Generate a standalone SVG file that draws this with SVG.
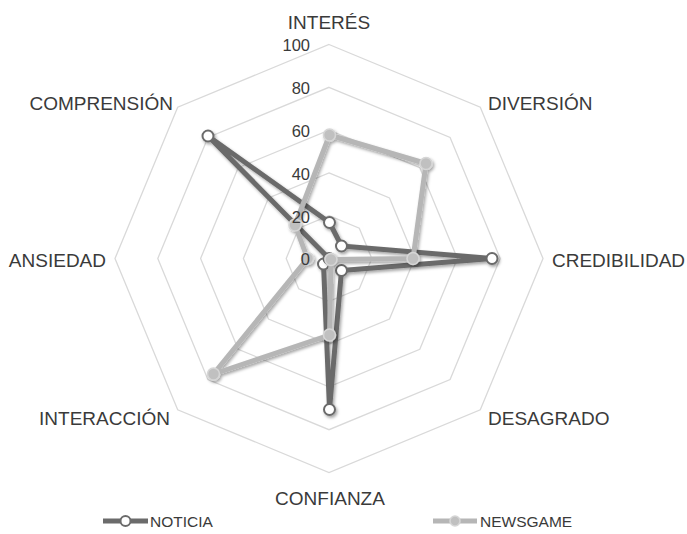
<svg xmlns="http://www.w3.org/2000/svg" width="687" height="534" viewBox="0 0 687 534">
<style>
.grid{fill:none;stroke:#d9d9d9;stroke-width:1.3}
.lbl{font-family:"Liberation Sans",Arial,sans-serif;font-size:19px;fill:#3a3a3a}
.num{font-family:"Liberation Sans",Arial,sans-serif;font-size:16.5px;fill:#3a3a3a;text-anchor:end}
.leg{font-family:"Liberation Sans",Arial,sans-serif;font-size:15.5px;fill:#3a3a3a}
.nl{fill:none;stroke:#6b6b6b;stroke-width:5;stroke-linejoin:round}
.gl{fill:none;stroke:#b6b6b6;stroke-width:5;stroke-linejoin:round}
.nm{fill:#ffffff;stroke:#6b6b6b;stroke-width:2}
.gm{fill:#c0c0c0;stroke:#d6d6d6;stroke-width:1.6}
</style>
<defs>
<filter id="sh" x="-20%" y="-20%" width="140%" height="140%">
<feDropShadow dx="1.5" dy="2" stdDeviation="1.6" flood-color="#000" flood-opacity="0.35"/>
</filter>
</defs>
<rect width="687" height="534" fill="#ffffff"/>
<g id="grid">
<polygon class="grid" points="329,44.5 480.3,107.2 543,258.5 480.3,409.8 329,472.5 177.7,409.8 115,258.5 177.7,107.2"/>
<polygon class="grid" points="329,87.3 450.1,137.4 500.2,258.5 450.1,379.6 329,429.7 207.9,379.6 157.8,258.5 207.9,137.4"/>
<polygon class="grid" points="329,130.1 419.8,167.7 457.4,258.5 419.8,349.3 329,386.9 238.2,349.3 200.6,258.5 238.2,167.7"/>
<polygon class="grid" points="329,172.9 389.5,198 414.6,258.5 389.5,319 329,344.1 268.5,319 243.4,258.5 268.5,198"/>
<polygon class="grid" points="329,215.7 359.3,228.2 371.8,258.5 359.3,288.8 329,301.3 298.7,288.8 286.2,258.5 298.7,228.2"/>
</g>
<g id="series-noticia" filter="url(#sh)">
<polygon class="nl" points="329.5,222.5 341.5,246 492,258.5 341.5,270.5 329.5,409.5 323.5,264 329,258.5 208,136"/>
<circle class="nm" cx="329.5" cy="222.5" r="5.5"/>
<circle class="nm" cx="341.5" cy="246" r="5.5"/>
<circle class="nm" cx="492" cy="258.5" r="5.5"/>
<circle class="nm" cx="341.5" cy="270.5" r="5.5"/>
<circle class="nm" cx="329.5" cy="409.5" r="5.5"/>
<circle class="nm" cx="323.5" cy="264" r="5.5"/>
<circle class="nm" cx="329" cy="258.5" r="5.5"/>
<circle class="nm" cx="208" cy="136" r="5.5"/>
</g>
<g id="series-newsgame" filter="url(#sh)">
<polygon class="gl" points="329.5,135 426,163.5 413,258.5 331,259.5 329.5,335 213.5,374 307.5,258.5 295,225"/>
<circle class="gm" cx="329.5" cy="135" r="6"/>
<circle class="gm" cx="426" cy="163.5" r="6"/>
<circle class="gm" cx="413" cy="258.5" r="6"/>
<circle class="gm" cx="331" cy="259.5" r="6"/>
<circle class="gm" cx="329.5" cy="335" r="6"/>
<circle class="gm" cx="213.5" cy="374" r="6"/>
<circle class="gm" cx="307.5" cy="258.5" r="6"/>
<circle class="gm" cx="295" cy="225" r="6"/>
</g>
<g id="axis-values">
<text class="num" x="310" y="51">100</text>
<text class="num" x="310" y="94">80</text>
<text class="num" x="310" y="137">60</text>
<text class="num" x="310" y="180">40</text>
<text class="num" x="310" y="223">20</text>
<text class="num" x="310" y="265">0</text>
</g>
<g id="axis-labels">
<text class="lbl" x="329" y="29" text-anchor="middle">INTERÉS</text>
<text class="lbl" x="488" y="110">DIVERSIÓN</text>
<text class="lbl" x="552" y="267">CREDIBILIDAD</text>
<text class="lbl" x="488" y="425">DESAGRADO</text>
<text class="lbl" x="330" y="505" text-anchor="middle">CONFIANZA</text>
<text class="lbl" x="170" y="425" text-anchor="end">INTERACCIÓN</text>
<text class="lbl" x="106" y="267" text-anchor="end">ANSIEDAD</text>
<text class="lbl" x="173" y="110" text-anchor="end">COMPRENSIÓN</text>
</g>
<g id="legend">
<g id="legend-noticia">
<line x1="103" y1="521" x2="148" y2="521" stroke="#6b6b6b" stroke-width="5"/>
<circle cx="125.5" cy="521" r="5" fill="#fff" stroke="#6b6b6b" stroke-width="2"/>
<text class="leg" x="150" y="527">NOTICIA</text>
</g>
<g id="legend-newsgame">
<line x1="433" y1="521" x2="477" y2="521" stroke="#b6b6b6" stroke-width="5"/>
<circle cx="455" cy="521" r="5" fill="#c0c0c0" stroke="#d6d6d6" stroke-width="1.6"/>
<text class="leg" x="480" y="527">NEWSGAME</text>
</g>
</g>
</svg>
